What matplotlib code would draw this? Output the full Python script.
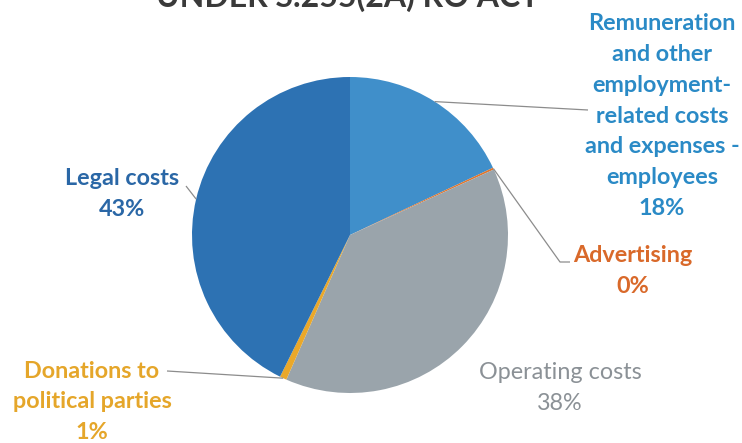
import numpy as np
import matplotlib
matplotlib.use("Agg")
import matplotlib.pyplot as plt

# slice data, clockwise from 12 o'clock
categories = [
    "Remuneration\nand other\nemployment-\nrelated costs\nand expenses -\nemployees",
    "Advertising",
    "Operating costs",
    "Donations to\npolitical parties",
    "Legal costs",
]
shares = [18.0, 0.2, 38.4, 0.7, 42.7]
shown_pct = [18, 0, 38, 1, 43]
slice_colors = ["#408fca", "#e0762e", "#9aa4ab", "#eaa82a", "#2d72b3"]
text_colors = ["#2a8ac6", "#d9692a", "#8b9196", "#e5a62a", "#2a67a6"]
title = "UNDER S.255(2A) RO ACT"

W, H = 742, 443
plt.rcParams["font.family"] = ["Lato", "DejaVu Sans"]

fig = plt.figure(figsize=(W / 100, H / 100), dpi=100)
ax = fig.add_axes([0, 0, 1, 1])

# pie geometry in pixel coords (y measured from bottom)
cx, cy, r = 350, H - 235, 158
wedges, _ = ax.pie(shares, colors=slice_colors, startangle=90, counterclock=False,
                   center=(cx, cy), radius=r, frame=True,
                   wedgeprops=dict(linewidth=0))
ax.set_xlim(0, W)
ax.set_ylim(0, H)
ax.set_aspect("equal")
ax.axis("off")

# label anchors (text centre, pixel coords from top) and leader line ends
label_pos = [(662, 116), (633, 271), (560, 388), (92, 402), (122, 194)]
label_bold = [True, True, False, True, True]
leader = [
    [(588, 110)],
    [(560, 262), (570, 262)],
    None,
    [(167, 371)],
    [(186, 186)],
]

for i, w in enumerate(wedges):
    txt = f"{categories[i]}\n{shown_pct[i]}%"
    x, y = label_pos[i]
    ax.text(x, H - y, txt, ha="center", va="center", color=text_colors[i],
            fontsize=16.8, fontweight="bold" if label_bold[i] else "normal",
            linespacing=1.58)
    if leader[i] is None:
        continue
    mid = np.deg2rad((w.theta1 + w.theta2) / 2)
    x0 = cx + r * np.cos(mid)
    y0 = cy + r * np.sin(mid)
    xs = [x0] + [p[0] for p in leader[i]]
    ys = [y0] + [H - p[1] for p in leader[i]]
    ax.plot(xs, ys, color="#8c8c8c", linewidth=0.9, solid_capstyle="butt")

# title, mostly cut off at the top edge as in the scan
ax.text(348, H - 7, title, ha="center", va="baseline", fontsize=23,
        fontweight="bold", color="#3a3a3a")

fig.savefig("out.png", dpi=100)
